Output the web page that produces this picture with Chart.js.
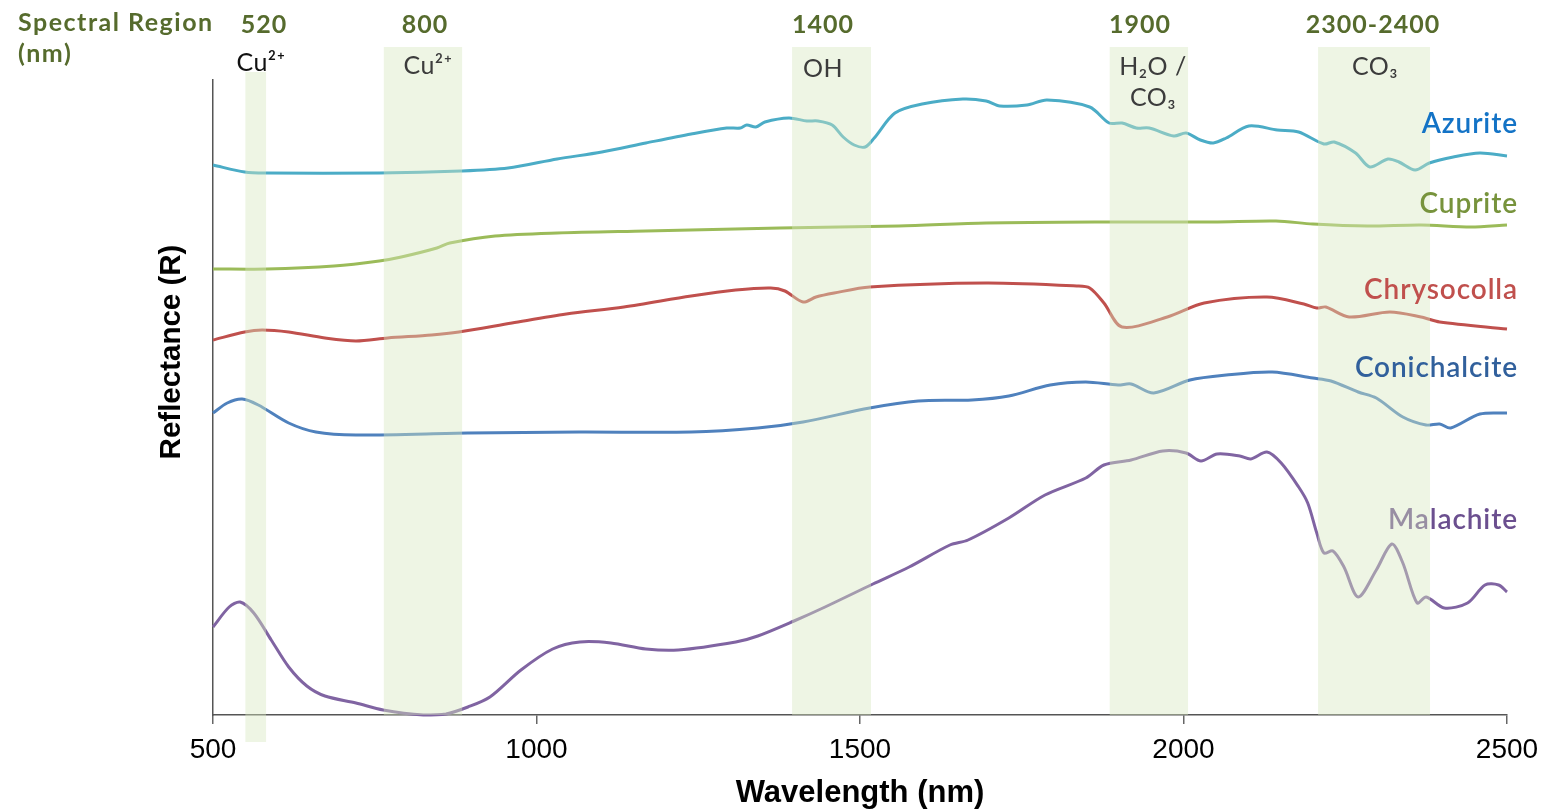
<!DOCTYPE html>
<html>
<head>
<meta charset="utf-8">
<script src="https://cdn.jsdelivr.net/npm/chart.js@4.4.1/dist/chart.umd.min.js"></script>
<style>
  html, body { margin: 0; padding: 0; background: #fff; }
  #wrap { position: relative; width: 1561px; height: 812px; }
</style>
</head>
<body>
<div id="wrap"><canvas id="spectra"></canvas></div>
<script>
// Reflectance spectra of copper minerals (curves offset vertically, arbitrary units)
// each pair: [wavelength nm, reflectance]
const azurite = [
  [500,550],[549,543],[583,542],[757,542],[883,544],[956,547],[1032,556],[1101,563],
  [1169,572],[1239,581],[1294,587],[1315,587],[1325,590],[1339,588],[1353,593],[1390,597],
  [1418,594],[1435,594],[1457,590],[1474,578],[1491,570],[1508,568],[1522,577],[1554,602],
  [1596,611],[1659,616],[1695,614],[1716,609],[1758,610],[1789,615],[1855,608],[1885,592],
  [1905,592],[1927,587],[1947,587],[1985,579],[2004,582],[2026,575],[2046,572],[2066,577],
  [2101,589],[2145,585],[2178,583],[2217,571],[2233,573],[2266,562],[2288,548],[2316,556],
  [2333,553],[2358,545],[2380,552],[2417,558],[2458,562],[2500,559]
];
const cuprite = [
  [500,446],[583,446],[687,449],[757,454],[791,458],[846,467],[866,472],[936,479],
  [1032,482],[1169,484],[1376,487],[1560,489],[1695,492],[1869,493],[2046,493],[2143,494],
  [2200,491],[2284,489],[2367,490],[2444,488],[2500,490]
];
const chrysocolla = [
  [500,375],[549,383],[576,385],[617,383],[673,377],[721,374],[770,377],[838,380],
  [880,383],[962,392],[1046,401],[1135,408],[1239,419],[1308,425],[1362,427],[1384,424],
  [1412,413],[1432,418],[1460,422],[1515,428],[1695,432],[1835,429],[1855,427],[1877,412],
  [1905,388],[1975,398],[2032,412],[2129,418],[2186,411],[2206,407],[2220,408],[2256,398],
  [2319,403],[2367,398],[2396,393],[2500,386]
];
const conichalcite = [
  [500,302],[522,312],[545,316],[570,310],[617,292],[659,283],[721,280],[894,282],
  [1066,283],[1239,283],[1342,287],[1412,293],[1515,307],[1590,314],[1673,315],[1730,319],
  [1794,330],[1849,333],[1899,330],[1919,331],[1954,322],[2010,335],[2066,340],[2137,343],
  [2200,337],[2228,334],[2270,323],[2298,317],[2339,298],[2375,290],[2396,291],[2413,287],
  [2458,301],[2500,302]
];
const malachite = [
  [500,88],[525,108],[542,113],[563,102],[590,75],[617,48],[645,29],[673,19],
  [721,12],[763,5],[825,0],[860,1],[894,8],[928,18],[976,45],[1025,66],
  [1067,73],[1115,72],[1169,66],[1219,65],[1308,73],[1342,79],[1398,94],[1446,108],
  [1520,131],[1576,148],[1639,170],[1667,175],[1730,197],[1786,220],[1849,237],[1877,250],
  [1919,255],[1968,264],[2004,262],[2027,254],[2052,261],[2087,259],[2104,256],[2129,263],
  [2151,252],[2178,228],[2192,212],[2206,182],[2217,162],[2231,164],[2248,148],[2270,118],
  [2298,145],[2322,171],[2339,152],[2361,112],[2375,118],[2403,107],[2439,112],[2466,130],
  [2487,130],[2500,123]
];

const seriesNames = ['Azurite', 'Cuprite', 'Chrysocolla', 'Conichalcite', 'Malachite'];
const seriesData = [azurite, cuprite, chrysocolla, conichalcite, malachite];
const lineColors = ['#4bacc6', '#9bbb59', '#c0504d', '#4f81bd', '#8064a2'];
const labelColors = ['#1373c6', '#77933c', '#c0504d', '#31609c', '#6b4f8f'];

// absorption regions (nm)
const bandStart = [550, 764, 1395, 1886, 2208];
const bandEnd = [582, 885, 1517, 2007, 2381];
const bandTitles = ['520', '800', '1400', '1900', '2300-2400'];
const bandFeatures = [['Cu²⁺'], ['Cu²⁺'], ['OH'], ['H₂O /', 'CO₃'], ['CO₃']];

const xTicks = [500, 1000, 1500, 2000, 2500];

// layout bits for the annotations (pixels)
const LABEL_RIGHT = 1518;
const labelBaseline = [133, 213, 299, 377, 529];
const titleX = [264, 425, 823, 1140, 1373];
const featureX = [261, 428, 823, 1153, 1375];
const featureY = [71, 74, 77, 75, 75];

function drawName(ctx, i) {
  ctx.fillStyle = labelColors[i];
  ctx.fillText(seriesNames[i], LABEL_RIGHT, labelBaseline[i]);
}

const overlay = {
  id: 'overlay',
  afterDatasetsDraw(chart) {
    const { ctx, scales: { x } } = chart;
    ctx.save();

    ctx.font = '600 28px Lato, "Open Sans", sans-serif';
    ctx.letterSpacing = '0.9px';
    ctx.textAlign = 'right';
    ctx.textBaseline = 'alphabetic';
    // Malachite sits partly under the shading in the original, so draw it first
    drawName(ctx, 4);

    // shaded regions go over the lines (they look washed out in the original)
    ctx.fillStyle = 'rgba(215,230,190,0.42)';
    bandStart.forEach((s, i) => {
      const l = x.getPixelForValue(s);
      const r = x.getPixelForValue(bandEnd[i]);
      const top = i === 0 ? 72 : 47;
      const bottom = i === 0 ? 742 : chart.chartArea.bottom;
      ctx.fillRect(l, top, r - l, bottom - top);
    });

    for (let i = 0; i < 4; i++) drawName(ctx, i);

    // header
    ctx.fillStyle = '#566b2d';
    ctx.font = 'bold 25px Lato, sans-serif';
    ctx.letterSpacing = '1.5px';
    ctx.textAlign = 'left';
    ctx.fillText('Spectral Region', 18, 31);
    ctx.fillText('(nm)', 18, 62);
    ctx.letterSpacing = '1px';
    ctx.textAlign = 'center';
    bandTitles.forEach((t, i) => ctx.fillText(t, titleX[i], 33));

    // absorbing species
    ctx.font = '25px Lato, "DejaVu Sans", sans-serif';
    ctx.letterSpacing = '0.5px';
    bandFeatures.forEach((lines, i) => {
      ctx.fillStyle = i === 0 ? '#111' : '#3c3c3c';
      lines.forEach((t, k) => ctx.fillText(t, featureX[i], featureY[i] + k * 31));
    });

    // y axis title
    ctx.letterSpacing = '0px';
    ctx.translate(172, 352);
    ctx.rotate(-Math.PI / 2);
    ctx.fillStyle = '#000';
    ctx.font = 'bold 29.5px "Liberation Sans", Arial, sans-serif';
    ctx.textAlign = 'center';
    ctx.textBaseline = 'middle';
    ctx.fillText('Reflectance (R)', 0, 0);
    ctx.restore();
  }
};

Chart.defaults.font.family = '"Liberation Sans", Arial, sans-serif';

new Chart(document.getElementById('spectra'), {
  type: 'line',
  data: {
    datasets: seriesData.map((d, i) => ({
      label: seriesNames[i],
      data: d.map(([x, y]) => ({ x, y })),
      borderColor: lineColors[i],
      borderWidth: 3,
      pointRadius: 0,
      tension: 0.3,
      fill: false,
      clip: false
    }))
  },
  options: {
    responsive: true,
    maintainAspectRatio: false,
    animation: false,
    layout: { padding: { top: 80, right: 54, left: 0, bottom: 0 } },
    plugins: { legend: { display: false }, tooltip: { enabled: false } },
    scales: {
      x: {
        type: 'linear',
        min: 500,
        max: 2500,
        afterBuildTicks: s => { s.ticks = xTicks.map(v => ({ value: v })); },
        afterFit: s => { s.height = 97; },
        ticks: { color: '#000', font: { size: 28 }, padding: 9, maxRotation: 0, callback: v => String(v) },
        grid: { drawOnChartArea: false, drawTicks: true, tickLength: 9, color: '#666', lineWidth: 1.5 },
        border: { color: '#555', width: 1.5 },
        title: {
          display: true,
          text: 'Wavelength (nm)',
          color: '#000',
          font: { size: 31, weight: 'bold', lineHeight: 1.2 },
          padding: { top: 0, bottom: 0 }
        }
      },
      y: {
        min: 0,
        max: 635,
        afterFit: s => { s.width = 213; },
        ticks: { display: false },
        grid: { display: false },
        border: { color: '#555', width: 1.5 }
      }
    }
  },
  plugins: [overlay]
});
</script>
</body>
</html>
